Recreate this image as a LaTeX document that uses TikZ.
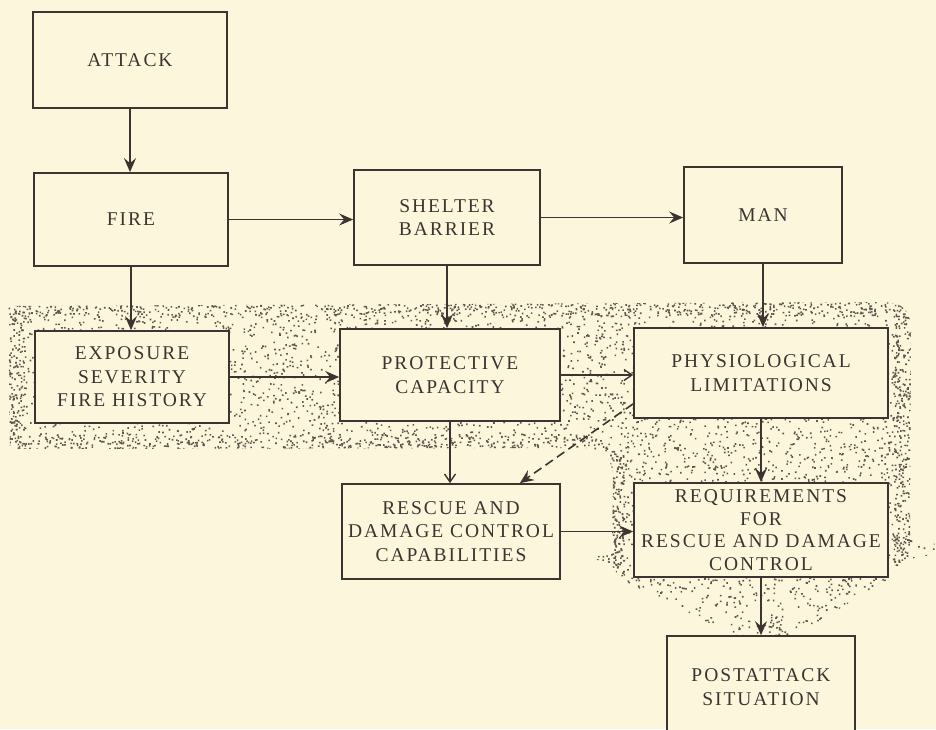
\documentclass[tikz,border=0pt]{standalone}
\usepackage{fontspec}
\newfontfamily\boxfont{Liberation Serif}[LetterSpace=10]
\usetikzlibrary{arrows.meta,calc}
\definecolor{paper}{RGB}{252,247,220}
\definecolor{ink}{RGB}{60,52,48}
\definecolor{dotc}{RGB}{95,88,80}
\begin{document}
\begin{tikzpicture}[x=1pt,y=-1pt,
  box/.style={draw=ink, line width=1.7pt, fill=paper, inner sep=0pt, align=center, text=ink,
    font=\boxfont\fontsize{19.5}{23.5}\selectfont},
  arr/.style={draw=ink, line width=1.6pt, -{Stealth[length=14pt,width=12pt,inset=5pt]}},
  arro/.style={draw=ink, line width=1.4pt, -{Straight Barb[length=8pt,width=11pt]}},
  dashline/.style={dash pattern=on 9pt off 5pt},
]
\useasboundingbox[fill=paper] (0,0) rectangle (936,729);
\pgfmathsetseed{4321}
% stippled zone
\begin{scope}
\clip (8,306) -- (880,302) .. controls (905,302) and (911,312) .. (911,330) -- (910,540)
  -- (936,544) -- (936,554) -- (905,560) -- (890,578) -- (768,652) -- (622,580)
  -- (612,566) -- (588,556) -- (612,548) -- (613,478) .. controls (612,458) and (605,449) .. (585,448)
  -- (10,449) -- cycle;
\fill[dotc] foreach \i in {1,...,3400} {({8+904*rnd},{300+150*rnd}) rectangle ++(1.6,1.6)};
\fill[dotc] foreach \i in {1,...,1150} {({585+351*rnd},{450+130*rnd}) rectangle ++(1.6,1.6)};
\fill[dotc] foreach \i in {1,...,500} {({620+270*rnd},{578+74*rnd}) rectangle ++(1.6,1.6)};
\fill[dotc] foreach \i in {1,...,600} {({8+904*rnd},{300+16*rnd}) rectangle ++(1.6,1.6)};
\fill[dotc] foreach \i in {1,...,130} {({8+16*rnd},{300+150*rnd}) rectangle ++(1.6,1.6)};
\fill[dotc] foreach \i in {1,...,380} {({8+600*rnd},{434+16*rnd}) rectangle ++(1.6,1.6)};
\fill[dotc] foreach \i in {1,...,300} {({894+18*rnd},{300+280*rnd}) rectangle ++(1.6,1.6)};
\fill[dotc] foreach \i in {1,...,170} {({608+16*rnd},{450+130*rnd}) rectangle ++(1.6,1.6)};
\end{scope}
% boxes
\node[box, minimum width=194pt, minimum height=96pt] (attack) at (130,60) {ATTACK};
\node[box, minimum width=194pt, minimum height=93pt] (fire) at (131,219.5) {FIRE};
\node[box, minimum width=186pt, minimum height=95pt] (shelter) at (447,217.5) {SHELTER\\BARRIER};
\node[box, minimum width=158pt, minimum height=96pt] (man) at (763,215) {MAN};
\node[box, minimum width=194pt, minimum height=92pt] (expo) at (132,377) {EXPOSURE\\SEVERITY\\FIRE HISTORY};
\node[box, minimum width=220pt, minimum height=92pt] (prot) at (450,375) {PROTECTIVE\\CAPACITY};
\node[box, minimum width=254pt, minimum height=90pt] (phys) at (761,373) {PHYSIOLOGICAL\\LIMITATIONS};
\node[box, minimum width=218pt, minimum height=95pt] (rescue) at (451,531.5) {RESCUE AND\\DAMAGE CONTROL\\CAPABILITIES};
\node[box, minimum width=254pt, minimum height=94pt, font=\boxfont\fontsize{19.5}{22.5}\selectfont] (req) at (761,530) {REQUIREMENTS\\FOR\\RESCUE AND DAMAGE\\CONTROL};
\node[box, minimum width=188pt, minimum height=102pt] (post) at (761,687) {POSTATTACK\\SITUATION};
% connectors
\draw[arr] (attack.south) -- (attack.south |- fire.north);
\draw[arr] (fire.east) -- (fire.east -| shelter.west);
\draw[arr] (shelter.east) -- (shelter.east -| man.west);
\draw[arr] (fire.south) -- (fire.south |- expo.north);
\draw[arr] (shelter.south) -- (shelter.south |- prot.north);
\draw[arr] (man.south) -- (man.south |- phys.north);
\draw[arr] (expo.east) -- (expo.east -| prot.west);
\draw[arro] (prot.east) -- (prot.east -| phys.west);
\draw[arro] (prot.south) -- (prot.south |- rescue.north);
\draw[arr, dashline] ($(phys.south west)+(0,-15)$) -- ($(rescue.north east)+(-41,0)$);
\draw[arr] (phys.south) -- (phys.south |- req.north);
\draw[arr] (rescue.east) -- (rescue.east -| req.west);
\draw[arr] (req.south) -- (req.south |- post.north);
\end{tikzpicture}
\end{document}
